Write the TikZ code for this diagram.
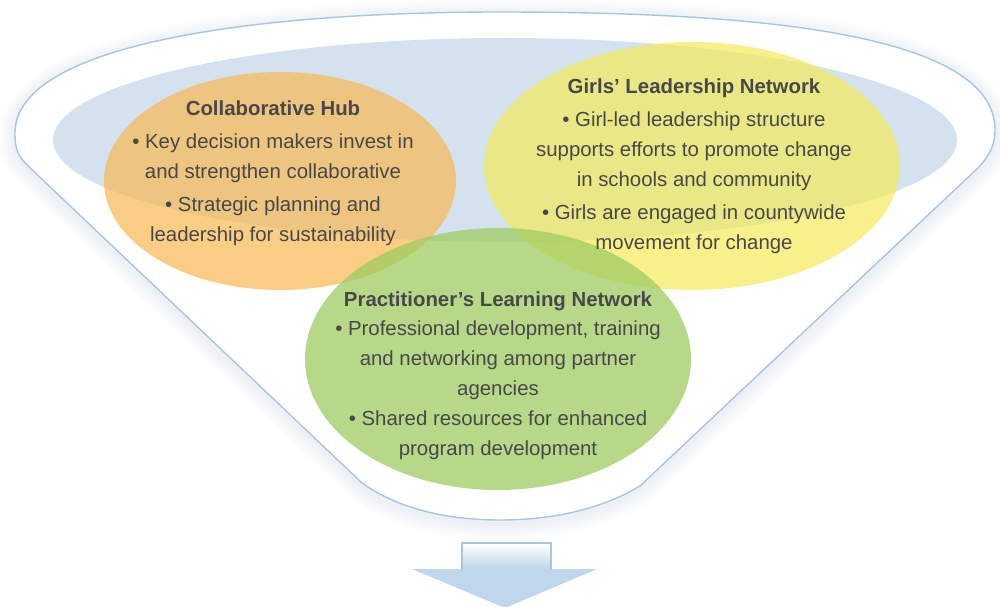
\documentclass[tikz,border=0pt]{standalone}
\usepackage{fontspec}
\setmainfont{Liberation Sans}
\definecolor{rimblue}{RGB}{169,197,226}
\definecolor{glowblue}{RGB}{120,150,185}
\definecolor{bowlblue}{RGB}{212,225,238}
\definecolor{hubcolor}{RGB}{249,184,82}
\definecolor{girlcolor}{RGB}{244,234,91}
\definecolor{praccolor}{RGB}{159,203,98}
\definecolor{inkgray}{RGB}{72,72,72}
\definecolor{arrowblue}{RGB}{192,214,234}
\newcommand{\funneloutline}{(15,133) .. controls (15,45) and (250,12) .. (500,12)
    .. controls (750,12) and (995,32) .. (995,130)
    .. controls (995,145) and (990,155) .. (978,168) -- (640,486)
    .. controls (600,510) and (550,520) .. (500,520)
    .. controls (450,520) and (400,510) .. (362,483) -- (28,166)
    .. controls (18,156) and (15,150) .. (15,133) -- cycle}
\tikzset{
  blob/.style={opacity=0.7},
  blurb/.style={align=center, inner sep=0pt, anchor=north, text=inkgray,
    font=\fontsize{11.6}{17}\selectfont},
}
\begin{document}
\begin{tikzpicture}[x=0.02cm,y=-0.02cm]
    \useasboundingbox (0,0) rectangle (1000,607);
    % soft glow round the funnel
    \foreach \w in {18,15,12,9,6,3}
    \draw[glowblue, line width=\w pt, opacity=0.025, yshift=-2pt] \funneloutline;
    \draw[rimblue, fill=white, line width=0.8pt] \funneloutline;
    \fill[bowlblue] (505,140) ellipse [x radius=452, y radius=102];
    %\draw[loosely dotted] (0,0) grid[step=50] (1000,607);
    \fill[hubcolor, blob] (280,181) ellipse [x radius=176, y radius=109];
    \fill[girlcolor, blob] (692,166) ellipse [x radius=208, y radius=124];
    \fill[praccolor, opacity=0.75] (498,359) ellipse [x radius=193, y radius=131];
    \node[blurb] (hub) at (273,100) {{\bfseries Collaborative Hub}\\[2pt]
        • Key decision makers invest in\\
        and strengthen collaborative\\[2pt]
        • Strategic planning and\\
        leadership for sustainability};
    \node[blurb] (girls) at (694,78) {{\bfseries Girls’ Leadership Network}\\[2pt]
        • Girl-led leadership structure\\
        supports efforts to promote change\\
        in schools and community\\[2pt]
        • Girls are engaged in countywide\\
        movement for change};
    \node[blurb] (prac) at (498,291) {{\bfseries Practitioner’s Learning Network}\\
        • Professional development, training\\
        and networking among partner\\
        agencies\\
        • Shared resources for enhanced\\
        program development};
    % arrow out of the funnel
    \shade[top color=white, bottom color=arrowblue] (462,543) rectangle (551,569);
    \draw[rimblue, line width=0.6pt] (462,569) -- (462,543) -- (551,543) -- (551,569);
    \fill[arrowblue] (412,569) -- (597,569) -- (505,608) -- cycle;
\end{tikzpicture}
\end{document}
